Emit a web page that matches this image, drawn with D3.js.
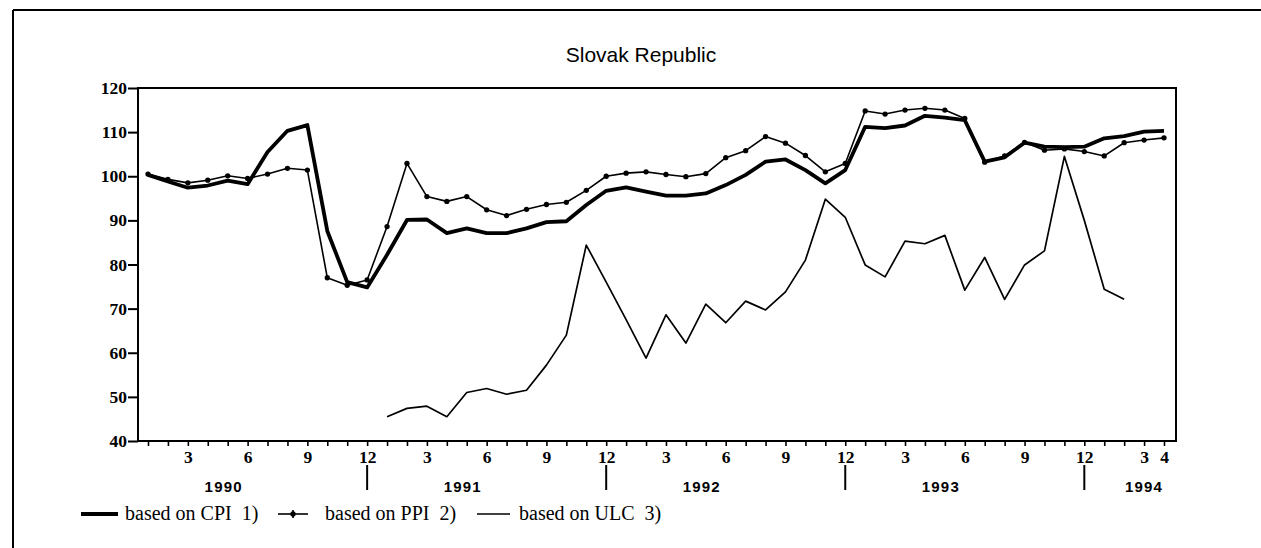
<!DOCTYPE html>
<html>
<head>
<meta charset="utf-8">
<script src="https://cdn.jsdelivr.net/npm/d3@7"></script>
<style>
  html, body { margin: 0; padding: 0; background: #fff; }
  svg { display: block; }
</style>
</head>
<body>
<svg id="chart" width="1261" height="548"></svg>
<script>
// ---- Data (monthly, Jan 1990 .. Apr 1994) ----
const title = "Slovak Republic";
const years = ["1990", "1991", "1992", "1993", "1994"];
const monthsPerYear = [12, 12, 12, 12, 4];
const yTicks = [40, 50, 60, 70, 80, 90, 100, 110, 120];
const monthLabels = [3, 6, 9, 12];
const seriesNames = ["based on CPI  1)", "based on PPI  2)", "based on ULC  3)"];

const cpi = [
  100.3, 98.8, 97.4, 97.9, 99.0, 98.2, 105.5, 110.3, 111.6, 87.6, 76.0, 74.8,
  82.2, 90.1, 90.2, 87.1, 88.2, 87.1, 87.1, 88.2, 89.6, 89.8, 93.5, 96.7,
  97.5, 96.5, 95.6, 95.6, 96.1, 98.0, 100.3, 103.3, 103.8, 101.4, 98.4, 101.4,
  111.2, 110.9, 111.5, 113.7, 113.3, 112.7, 103.3, 104.3, 107.6, 106.7, 106.6, 106.7,
  108.6, 109.1, 110.1, 110.3
];
const ppi = [
  100.5, 99.3, 98.5, 99.1, 100.1, 99.5, 100.5, 101.8, 101.4, 77.0, 75.3, 76.5,
  88.6, 102.9, 95.4, 94.3, 95.4, 92.4, 91.1, 92.5, 93.6, 94.1, 96.8, 100.0,
  100.7, 101.0, 100.4, 99.9, 100.6, 104.2, 105.8, 109.0, 107.5, 104.7, 101.0, 102.9,
  114.8, 114.1, 115.0, 115.4, 115.0, 113.1, 103.2, 104.6, 107.7, 105.9, 106.2, 105.6,
  104.6, 107.6, 108.2, 108.7
];
const ulc = [
  null, null, null, null, null, null, null, null, null, null, null, null,
  45.5, 47.4, 47.9, 45.5, 51.0, 51.9, 50.6, 51.5, 57.2, 64.0, 84.4, 76.0,
  67.5, 58.8, 68.6, 62.2, 71.0, 66.8, 71.7, 69.7, 73.8, 81.0, 94.8, 90.7,
  79.9, 77.2, 85.3, 84.7, 86.6, 74.2, 81.6, 72.1, 79.9, 83.1, 104.5, 90.0,
  74.4, 72.1, null, null
];

// ---- Layout ----
const svg = d3.select("#chart");
const plot = { left: 138, top: 88, right: 1176, bottom: 441 };
const nPts = cpi.length;

const x = d3.scaleLinear().domain([0, nPts - 1]).range([148, 1164]);
const y = d3.scaleLinear().domain([40, 120]).range([plot.bottom, plot.top]);

const monthOf = d3.range(nPts).map(i => (i % 12) + 1);
const yearStarts = [];
{ let s = 0; monthsPerYear.forEach(n => { yearStarts.push(s); s += n; }); }

// Outer frame (top and left edges)
svg.append("line").attr("x1", 13).attr("y1", 10).attr("x2", 1261).attr("y2", 10)
  .attr("stroke", "#000").attr("stroke-width", 2);
svg.append("line").attr("x1", 13).attr("y1", 10).attr("x2", 13).attr("y2", 548)
  .attr("stroke", "#000").attr("stroke-width", 2);

// Title
svg.append("text").attr("x", 641).attr("y", 62)
  .attr("text-anchor", "middle")
  .attr("font-family", "'Liberation Sans', Arial, sans-serif")
  .attr("font-size", 21)
  .attr("fill", "#000")
  .text(title);

// Plot box
svg.append("rect")
  .attr("x", plot.left).attr("y", plot.top)
  .attr("width", plot.right - plot.left).attr("height", plot.bottom - plot.top)
  .attr("fill", "none").attr("stroke", "#000").attr("stroke-width", 2);

// Y axis
const yAxis = d3.axisLeft(y).tickValues(yTicks).tickSize(10).tickPadding(1).tickFormat(d3.format("d"));
const gy = svg.append("g").attr("transform", `translate(${plot.left},0)`).call(yAxis);
gy.select(".domain").remove();
gy.selectAll(".tick line").attr("stroke", "#000").attr("stroke-width", 2);
gy.selectAll(".tick text")
  .attr("font-family", "'Liberation Serif', 'Times New Roman', serif")
  .attr("font-size", 17.5).attr("font-weight", "bold").attr("fill", "#000");

// X axis (monthly ticks)
const xAxis = d3.axisBottom(x).tickValues(d3.range(nPts)).tickSize(5).tickPadding(5)
  .tickFormat(i => {
    const m = monthOf[i];
    if (i >= yearStarts[4]) return (m === 3 || m === 4) ? String(m) : "";
    return monthLabels.includes(m) ? String(m) : "";
  });
const gx = svg.append("g").attr("transform", `translate(0,${plot.bottom})`).call(xAxis);
gx.select(".domain").remove();
gx.selectAll(".tick line").attr("stroke", "#000").attr("stroke-width", 1.6);
gx.selectAll(".tick text")
  .attr("font-family", "'Liberation Serif', 'Times New Roman', serif")
  .attr("font-size", 17.5).attr("font-weight", "bold").attr("fill", "#000");

// Year separators and labels
yearStarts.slice(1).forEach(s => {
  svg.append("line").attr("x1", x(s - 1)).attr("x2", x(s - 1))
    .attr("y1", 465).attr("y2", 490)
    .attr("stroke", "#000").attr("stroke-width", 2);
});
years.forEach((yr, k) => {
  const pos = yearStarts[k] + Math.min(3.8, monthsPerYear[k] / 2);
  svg.append("text").attr("x", x(pos)).attr("y", 492)
    .attr("text-anchor", "middle")
    .attr("font-family", "'Liberation Sans', Arial, sans-serif")
    .attr("font-size", 15).attr("font-weight", "bold")
    .attr("letter-spacing", 1.2)
    .attr("fill", "#000")
    .text(yr);
});

// Lines
const line = d3.line()
  .defined(d => d != null)
  .x((d, i) => x(i))
  .y(d => y(d));

svg.append("path").datum(ulc).attr("d", line)
  .attr("fill", "none").attr("stroke", "#000").attr("stroke-width", 1.7)
  .attr("stroke-linejoin", "round");
svg.append("path").datum(ppi).attr("d", line)
  .attr("fill", "none").attr("stroke", "#000").attr("stroke-width", 1.6)
  .attr("stroke-linejoin", "round");
svg.append("g").selectAll("path").data(ppi).join("path")
  .attr("transform", (d, i) => `translate(${x(i)},${y(d)})`)
  .attr("d", d3.symbol(d3.symbolCircle, 22))
  .attr("fill", "#000");
svg.append("path").datum(cpi).attr("d", line)
  .attr("fill", "none").attr("stroke", "#000").attr("stroke-width", 3.8)
  .attr("stroke-linejoin", "round");

// Legend
const legendY = 514;
const legendFont = "'Liberation Serif', 'Times New Roman', serif";
const legendItems = [
  { x1: 81, x2: 118, w: 3.8, marker: false, tx: 125 },
  { x1: 278, x2: 308, w: 1.6, marker: true, tx: 325 },
  { x1: 477, x2: 510, w: 1.6, marker: false, tx: 519 }
];
legendItems.forEach((it, k) => {
  svg.append("line").attr("x1", it.x1).attr("x2", it.x2)
    .attr("y1", legendY).attr("y2", legendY)
    .attr("stroke", "#000").attr("stroke-width", it.w);
  if (it.marker) {
    svg.append("path").attr("transform", `translate(${(it.x1 + it.x2) / 2},${legendY})`)
      .attr("d", d3.symbol(d3.symbolCircle, 22)).attr("fill", "#000");
    svg.append("line").attr("x1", (it.x1 + it.x2) / 2).attr("x2", (it.x1 + it.x2) / 2)
      .attr("y1", legendY - 4).attr("y2", legendY + 4)
      .attr("stroke", "#000").attr("stroke-width", 1.6);
  }
  svg.append("text").attr("x", it.tx).attr("y", 520)
    .attr("font-family", legendFont).attr("font-size", 20)
    .attr("xml:space", "preserve").style("white-space", "pre")
    .attr("fill", "#000")
    .text(seriesNames[k]);
});
</script>
</body>
</html>
